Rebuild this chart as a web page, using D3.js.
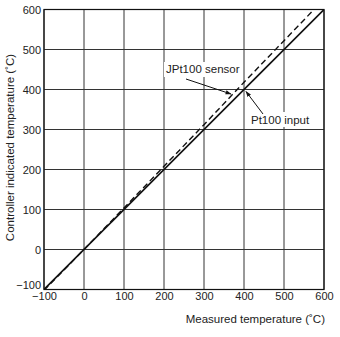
<!DOCTYPE html>
<html><head><meta charset="utf-8">
<script src="https://cdn.jsdelivr.net/npm/d3@7"></script>
<style>body{margin:0;background:#fff}svg{display:block}text{font-family:"Liberation Sans",Arial,sans-serif;fill:#222}</style>
</head><body>
<svg id="c" width="340" height="337"></svg>
<script>
const xTicks = [-100, 0, 100, 200, 300, 400, 500, 600];
const yTicks = [-100, 0, 100, 200, 300, 400, 500, 600];
const pt100Measured = [-100, 600];
const pt100Indicated = [-100, 600];
const jptMeasured = [-100, 0, 100, 200, 300, 400, 500, 575];
const jptIndicated = [-102, 0, 104, 208, 312, 418, 522, 600];
const labels = {x: "Measured temperature (˚C)", y: "Controller indicated temperature (˚C)", jpt: "JPt100 sensor", pt: "Pt100 input"};

const svg = d3.select("#c");
const m = {l: 44, r: 16, t: 9.5, b: 47.5};
const W = 340, H = 337;
const x = d3.scaleLinear().domain([-100, 600]).range([m.l, W - m.r]);
const y = d3.scaleLinear().domain([-100, 600]).range([H - m.b, m.t]);
const fmt = d => d < 0 ? "\u2212" + Math.abs(d) : String(d);

// grid
svg.append("g").selectAll("line").data(xTicks).join("line")
  .attr("x1", d => x(d)).attr("x2", d => x(d)).attr("y1", y(-100)).attr("y2", y(600))
  .attr("stroke", "#333").attr("stroke-width", 1);
svg.append("g").selectAll("line").data(yTicks).join("line")
  .attr("y1", d => y(d)).attr("y2", d => y(d)).attr("x1", x(-100)).attr("x2", x(600))
  .attr("stroke", "#333").attr("stroke-width", 1);
svg.append("rect").attr("x", x(-100)).attr("y", y(600)).attr("width", x(600) - x(-100)).attr("height", y(-100) - y(600))
  .attr("fill", "none").attr("stroke", "#111").attr("stroke-width", 1.2);

// axes tick labels
const xa = svg.append("g").attr("transform", `translate(0,${y(-100)})`)
  .call(d3.axisBottom(x).tickValues(xTicks).tickFormat(fmt).tickSize(0).tickPadding(3));
xa.select(".domain").remove();
xa.selectAll("text").style("font-size", "11px").attr("fill", "#222");
const ya = svg.append("g").attr("transform", `translate(${x(-100)},0)`)
  .call(d3.axisLeft(y).tickValues(yTicks).tickFormat(fmt).tickSize(0).tickPadding(3));
ya.select(".domain").remove();
ya.selectAll("text").style("font-size", "11px").attr("fill", "#222")
  .attr("dy", d => d === -100 ? "-0.05em" : "0.32em");

// clip
svg.append("clipPath").attr("id", "clip").append("rect")
  .attr("x", x(-100)).attr("y", y(600)).attr("width", x(600) - x(-100)).attr("height", y(-100) - y(600));

const line = d3.line().x(d => x(d[0])).y(d => y(d[1]));
svg.append("path").datum(d3.zip(jptMeasured, jptIndicated)).attr("d", line)
  .attr("clip-path", "url(#clip)").attr("fill", "none").attr("stroke", "#111").attr("stroke-width", 1.4)
  .attr("stroke-dasharray", "6,3.5");
svg.append("path").datum(d3.zip(pt100Measured, pt100Indicated)).attr("d", line)
  .attr("clip-path", "url(#clip)").attr("fill", "none").attr("stroke", "#111").attr("stroke-width", 1.6);

// annotations
svg.append("defs").append("marker").attr("id", "ah").attr("viewBox", "0 0 10 10").attr("refX", 9).attr("refY", 5)
  .attr("markerWidth", 6).attr("markerHeight", 6).attr("orient", "auto")
  .append("path").attr("d", "M0,1.5L10,5L0,8.5z").attr("fill", "#111");
svg.append("rect").attr("x", 164).attr("y", 62).attr("width", 79).attr("height", 15).attr("fill", "#fff");
svg.append("text").attr("x", 166).attr("y", 73).style("font-size", "11.5px").text(labels.jpt);
svg.append("line").attr("x1", 186).attr("y1", 79).attr("x2", 231).attr("y2", 94)
  .attr("stroke", "#111").attr("stroke-width", 1).attr("marker-end", "url(#ah)");
svg.append("rect").attr("x", 250).attr("y", 112).attr("width", 63).attr("height", 15).attr("fill", "#fff");
svg.append("text").attr("x", 251).attr("y", 124).style("font-size", "11.5px").text(labels.pt);
svg.append("line").attr("x1", 263).attr("y1", 114).attr("x2", x(400) + 2).attr("y2", y(400) + 2)
  .attr("stroke", "#111").attr("stroke-width", 1).attr("marker-end", "url(#ah)");

// axis titles
svg.append("text").attr("x", 325).attr("y", 323).attr("text-anchor", "end").style("font-size", "11.5px").text(labels.x);
svg.append("text").attr("transform", `translate(14,${(y(600)+y(-100))/2 - 2}) rotate(-90)`).attr("text-anchor", "middle")
  .style("font-size", "11.5px").text(labels.y);
</script>
</body></html>
